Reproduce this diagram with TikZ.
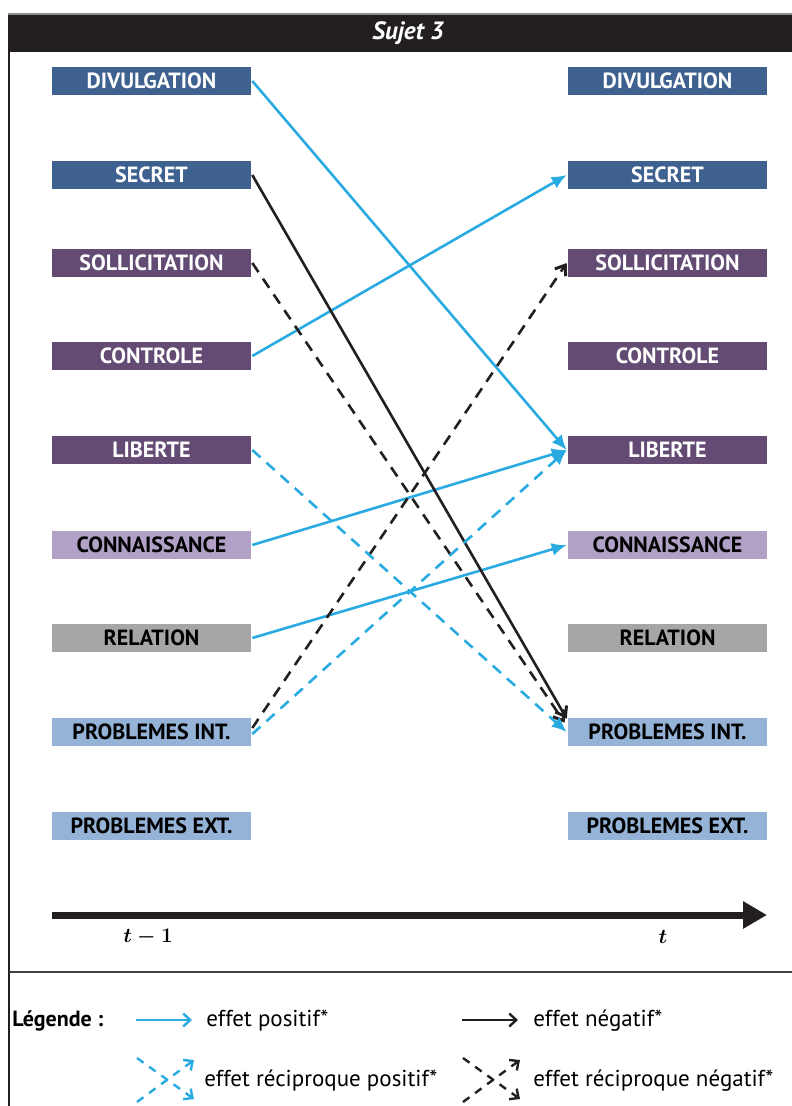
\documentclass[tikz,border=0pt]{standalone}
\usepackage{amsmath}
\usepackage{fontspec}
\setmainfont{PT Sans}
\usetikzlibrary{arrows.meta}
\definecolor{darkblue}{HTML}{3E6190}
\definecolor{plum}{HTML}{634B74}
\definecolor{lilac}{HTML}{B2A1C7}
\definecolor{midgray}{HTML}{A6A6A6}
\definecolor{paleblue}{HTML}{95B3D7}
\definecolor{cyanink}{HTML}{29ABE2}
\definecolor{barink}{HTML}{231F20}
\tikzset{
  sujet/.style={font=\fontsize{22}{26}\selectfont, text=black, line width=2.6pt},
  var/.style={minimum width=199pt, minimum height=28pt, inner sep=0pt,
    font=\bfseries\fontsize{22}{26}\selectfont},
  darkvar/.style={var, fill=darkblue, text=white},
  plumvar/.style={var, fill=plum, text=white},
  lilacvar/.style={var, fill=lilac, text=black},
  grayvar/.style={var, fill=midgray, text=black},
  palevar/.style={var, fill=paleblue, text=black},
  poseffect/.style={-{Latex[length=15pt,width=13pt]}, draw=cyanink, line width=2.6pt},
  negeffect/.style={-{Straight Barb[length=9pt,width=13pt,line width=3pt]}, draw=barink, line width=2.6pt},
  recpos/.style={poseffect, dash pattern=on 11pt off 8pt},
  recneg/.style={negeffect, dash pattern=on 11pt off 8pt},
  legpos/.style={-{Straight Barb[length=7pt,width=13pt]}, draw=cyanink, line width=2.4pt},
  legneg/.style={-{Straight Barb[length=7pt,width=13pt]}, draw=barink, line width=2.4pt},
  legtext/.style={anchor=west, inner sep=0pt, font=\fontsize{23}{26}\selectfont},
}
\begin{document}
\begin{tikzpicture}[sujet,x=1pt,y=1pt]
  % Page is 792 x 1106, y runs downwards as negative values.
  \path[use as bounding box] (0,0) rectangle (792,-1106);

  % ---------------- header and frame ----------------
  \draw[black!45,line width=1.2pt] (8,-14) -- (792,-14);
  \fill[barink] (8,-15) rectangle (792,-52);
  \node[text=white,font=\bfseries\itshape\fontsize{25}{28}\selectfont] (title)
    at (408,-33.5) {Sujet 3};
  \draw[barink,line width=1.6pt] (9,-15) -- (9,-1106);

  % ---------------- variables at t-1 ----------------
  \node[darkvar]  (ldiv)  at (151.5,-81)  {DIVULGATION};
  \node[darkvar]  (lsec)  at (151.5,-175) {SECRET};
  \node[plumvar]  (lsol)  at (151.5,-263) {SOLLICITATION};
  \node[plumvar]  (lcon)  at (151.5,-356) {CONTROLE};
  \node[plumvar]  (llib)  at (151.5,-450) {LIBERTE};
  \node[lilacvar] (lkno)  at (151.5,-545) {CONNAISSANCE};
  \node[grayvar]  (lrel)  at (151.5,-638) {RELATION};
  \node[palevar]  (lpint) at (151.5,-732) {PROBLEMES INT.};
  \node[palevar]  (lpext) at (151.5,-826) {PROBLEMES EXT.};

  % ---------------- variables at t ----------------
  \node[darkvar]  (rdiv)  at (667.5,-81)  {DIVULGATION};
  \node[darkvar]  (rsec)  at (667.5,-175) {SECRET};
  \node[plumvar]  (rsol)  at (667.5,-263) {SOLLICITATION};
  \node[plumvar]  (rcon)  at (667.5,-356) {CONTROLE};
  \node[plumvar]  (rlib)  at (667.5,-450) {LIBERTE};
  \node[lilacvar] (rkno)  at (667.5,-545) {CONNAISSANCE};
  \node[grayvar]  (rrel)  at (667.5,-638) {RELATION};
  \node[palevar]  (rpint) at (667.5,-732) {PROBLEMES INT.};
  \node[palevar]  (rpext) at (667.5,-826) {PROBLEMES EXT.};

  % ---------------- effects ----------------
  \draw[poseffect] (ldiv.east) -- (rlib.west);
  \draw[poseffect] (lcon.east) -- (rsec.west);
  \draw[poseffect] (lkno.east) -- (rlib.west);
  \draw[poseffect] (lrel.east) -- (rkno.west);
  \draw[negeffect] (lsec.east) -- ([yshift=-2pt]rpint.north west);
  % reciprocal effects
  \draw[recneg] (lsol.east) -- ([xshift=-2pt,yshift=-6pt]rpint.north west);
  \draw[recneg] ([yshift=4pt]lpint.east) -- (rsol.west);
  \draw[recpos] (llib.east) -- (rpint.west);
  \draw[recpos] ([yshift=-2pt]lpint.east) -- (rlib.west);

  % ---------------- time axis ----------------
  \coordinate (tstart) at (52,-915);
  \coordinate (tend) at (767,-915);
  \draw[barink,line width=7pt,-{Triangle[length=24pt,width=26pt]}] (tstart) -- (tend);
  \node[font=\fontsize{20}{22}\selectfont] (tprev) at (148,-937) {$\boldsymbol{t-1}$};
  \node[font=\fontsize{20}{22}\selectfont] (tnow) at (663,-937) {$\boldsymbol{t}$};

  % ---------------- legend ----------------
  \draw[barink!85,line width=1.6pt] (9,-972) -- (792,-972);
  \node[legtext,font=\bfseries\fontsize{22}{26}\selectfont] (legend) at (11,-1021) {Légende :};
  \coordinate (pa) at (136,-1020);  \coordinate (pb) at (192,-1020);
  \draw[legpos] (pa) -- (pb);
  \node[legtext] (tpos) at (205,-1021) {effet positif*};
  \coordinate (na) at (462,-1020);  \coordinate (nb) at (518,-1020);
  \draw[legneg] (na) -- (nb);
  \node[legtext] (tneg) at (532,-1021) {effet négatif*};

  \coordinate (rpa) at (137,-1058); \coordinate (rpb) at (194,-1099);
  \coordinate (rpc) at (137,-1102); \coordinate (rpd) at (194,-1060);
  \draw[legpos,dash pattern=on 8pt off 7pt] (rpa) -- (rpb);
  \draw[legpos,dash pattern=on 8pt off 7pt] (rpc) -- (rpd);
  \node[legtext] (trpos) at (203,-1081) {effet réciproque positif*};
  \coordinate (rna) at (463,-1058); \coordinate (rnb) at (520,-1099);
  \coordinate (rnc) at (463,-1102); \coordinate (rnd) at (520,-1060);
  \draw[legneg,dash pattern=on 8pt off 7pt] (rna) -- (rnb);
  \draw[legneg,dash pattern=on 8pt off 7pt] (rnc) -- (rnd);
  \node[legtext] (trneg) at (532,-1081) {effet réciproque négatif*};
\end{tikzpicture}
\end{document}
